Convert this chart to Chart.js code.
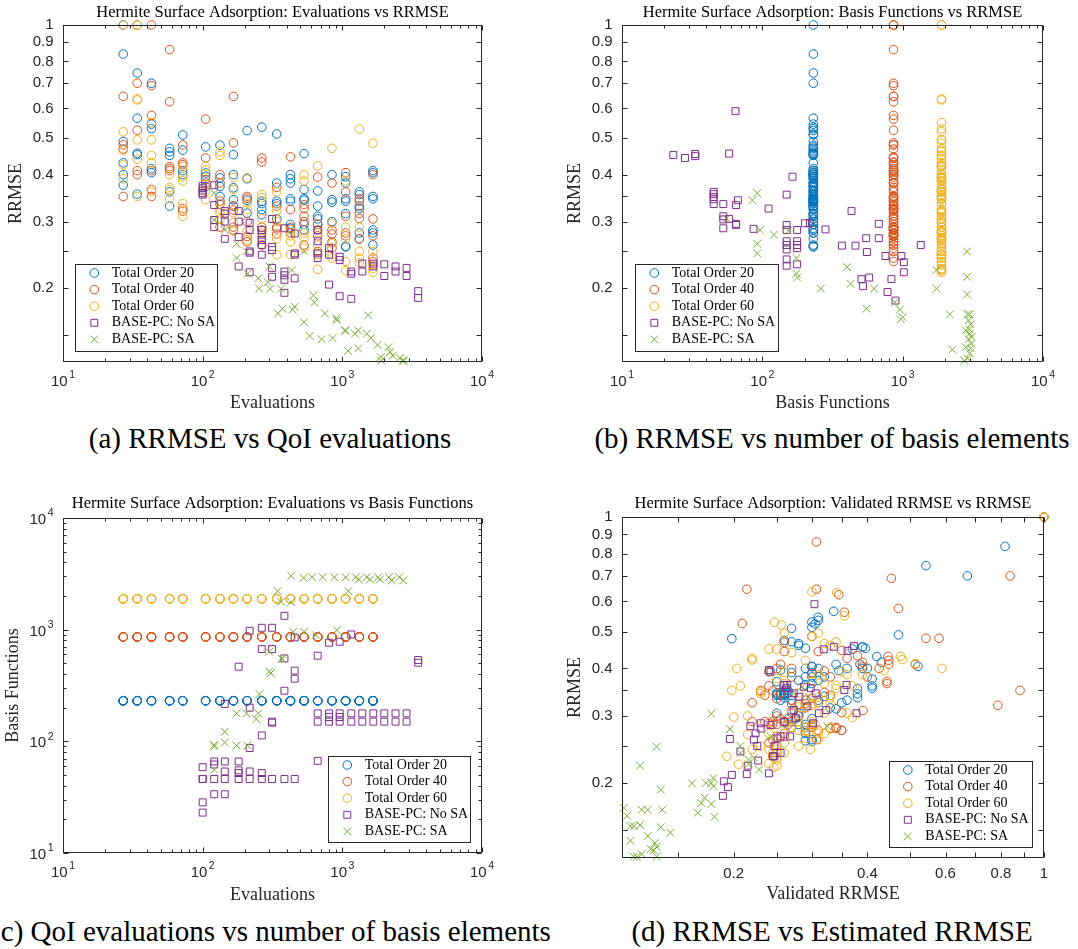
<!DOCTYPE html>
<html>
<head>
<meta charset="utf-8">
<title>Hermite Surface Adsorption</title>
<script src="https://cdn.jsdelivr.net/npm/chart.js@4.4.1/dist/chart.umd.min.js"></script>
<style>
  html, body { margin: 0; padding: 0; background: #fff; }
  #page { position: relative; width: 1078px; height: 949px; overflow: hidden; }
  canvas { position: absolute; }
  .caption { position: absolute; font-family: "Liberation Serif", "Times New Roman", serif; font-size: 29px; line-height: 29px; color: #000; text-align: center; white-space: nowrap; }
</style>
</head>
<body>
<div id="page">
  <canvas id="chartA" width="540" height="420" style="left:0;top:0"></canvas>
  <canvas id="chartB" width="538" height="420" style="left:540px;top:0"></canvas>
  <canvas id="chartC" width="540" height="440" style="left:0;top:470px"></canvas>
  <canvas id="chartD" width="538" height="440" style="left:540px;top:470px"></canvas>
  <div class="caption" style="left:20px;width:500px;top:424px">(a) RRMSE vs QoI evaluations</div>
  <div class="caption" style="left:532px;width:600px;top:424px">(b) RRMSE vs number of basis elements</div>
  <div class="caption" style="left:-79px;width:700px;top:917px">(c) QoI evaluations vs number of basis elements</div>
  <div class="caption" style="left:532px;width:600px;top:917px">(d) RRMSE vs Estimated RRMSE</div>
</div>
<script>
// ---------------- data ----------------
// QoI evaluation levels used by the total-order fits
const evalLevels = [27, 34, 43, 58, 72, 105, 133, 166, 208, 265, 339, 425, 532, 666, 843, 1056, 1323, 1657];
// number of basis functions of total order 20 / 40 / 60
const totalOrderBasis = [231, 861, 1891];

// RRMSE per evaluation level (one row per level)
const rrmseTO20 = [
  [1.0, 0.837, 0.49, 0.43, 0.40, 0.375], [0.745, 0.565, 0.456, 0.452, 0.355], [0.70, 0.545, 0.53, 0.415, 0.405],
  [0.47, 0.46, 0.45, 0.36, 0.33], [0.51, 0.465, 0.41, 0.40], [0.474, 0.404, 0.396, 0.372],
  [0.479, 0.392, 0.372, 0.35], [0.452, 0.40, 0.369, 0.343, 0.33], [0.524, 0.39, 0.342, 0.316],
  [0.535, 0.34, 0.335, 0.323, 0.313], [0.513, 0.38, 0.34, 0.335, 0.305], [0.40, 0.39, 0.38, 0.345, 0.34, 0.295, 0.288],
  [0.455, 0.365, 0.345, 0.342, 0.295, 0.285], [0.362, 0.33, 0.31, 0.305, 0.295], [0.40, 0.343, 0.338, 0.30],
  [0.395, 0.38, 0.345, 0.34, 0.315, 0.258, 0.257], [0.36, 0.354, 0.33, 0.325, 0.28, 0.27], [0.41, 0.405, 0.35, 0.345, 0.285, 0.28, 0.26]
];
const rrmseTO40 = [
  [0.646, 0.48, 0.468, 0.35], [1.0, 0.70, 0.525, 0.41, 0.40], [1.0, 0.69, 0.575, 0.41, 0.365, 0.35],
  [0.86, 0.625, 0.42, 0.415, 0.41], [0.48, 0.43, 0.425, 0.325, 0.32], [0.562, 0.443, 0.388, 0.38],
  [0.40, 0.38, 0.34, 0.334, 0.29], [0.646, 0.486, 0.33, 0.322, 0.29, 0.285], [0.35, 0.346, 0.30, 0.274, 0.265],
  [0.443, 0.432, 0.29, 0.285, 0.26], [0.37, 0.33, 0.29, 0.287, 0.278], [0.446, 0.323, 0.29, 0.28],
  [0.333, 0.325, 0.31, 0.30, 0.26], [0.394, 0.295, 0.285, 0.275, 0.25], [0.38, 0.285, 0.278, 0.265, 0.255],
  [0.405, 0.36, 0.31, 0.28, 0.275], [0.345, 0.34, 0.315, 0.306, 0.27], [0.40, 0.305, 0.275, 0.24, 0.235]
];
const rrmseTO60 = [
  [1.0, 0.52, 0.465, 0.425, 0.39], [1.0, 0.636, 0.632, 0.495, 0.44, 0.35], [0.55, 0.495, 0.45, 0.43, 0.36],
  [0.40, 0.37, 0.365, 0.345], [0.42, 0.395, 0.385, 0.335, 0.31], [0.421, 0.412, 0.376, 0.361, 0.343],
  [0.46, 0.45, 0.323, 0.316, 0.305], [0.393, 0.365, 0.317, 0.298, 0.283], [0.392, 0.336, 0.323, 0.283, 0.268],
  [0.354, 0.347, 0.305, 0.28, 0.27], [0.36, 0.32, 0.30, 0.27, 0.245], [0.285, 0.275, 0.265, 0.245],
  [0.40, 0.385, 0.28, 0.272, 0.255], [0.422, 0.28, 0.26, 0.245, 0.224], [0.47, 0.297, 0.262, 0.245, 0.24],
  [0.385, 0.29, 0.27, 0.235, 0.222], [0.529, 0.29, 0.25, 0.24, 0.233], [0.485, 0.25, 0.23, 0.225, 0.22]
];

// validated RRMSE, same layout as the RRMSE rows above
const validatedTO20 = [
  [1.0, 0.817, 0.47, 0.42, 0.40, 0.41], [0.542, 0.336, 0.39, 0.396, 0.41], [0.672, 0.31, 0.30, 0.43, 0.52],
  [0.27, 0.28, 0.37, 0.26, 0.255], [0.27, 0.28, 0.385, 0.29], [0.26, 0.30, 0.255, 0.31],
  [0.198, 0.24, 0.28, 0.265], [0.29, 0.39, 0.25, 0.38, 0.31], [0.305, 0.27, 0.25, 0.29],
  [0.31, 0.255, 0.38, 0.27, 0.34], [0.30, 0.32, 0.26, 0.26, 0.28], [0.36, 0.30, 0.30, 0.25, 0.27, 0.30, 0.26],
  [0.39, 0.30, 0.255, 0.26, 0.265, 0.29], [0.29, 0.36, 0.27, 0.25, 0.275], [0.31, 0.26, 0.32, 0.28],
  [0.345, 0.29, 0.26, 0.25, 0.33, 0.29, 0.30], [0.41, 0.38, 0.27, 0.35, 0.27, 0.29], [0.34, 0.30, 0.26, 0.265, 0.28, 0.29, 0.30]
];
const validatedTO40 = [
  [0.214, 0.542, 0.26, 0.23], [1.0, 0.839, 0.209, 0.513, 0.27], [1.0, 0.453, 0.47, 0.447, 0.443, 0.883],
  [0.307, 0.345, 0.447, 0.39, 0.255], [0.58, 0.445, 0.36, 0.22, 0.787], [0.355, 0.26, 0.30, 0.27],
  [0.25, 0.33, 0.235, 0.30, 0.26], [0.307, 0.30, 0.27, 0.28, 0.22, 0.245], [0.245, 0.32, 0.25, 0.29, 0.26],
  [0.31, 0.38, 0.235, 0.25, 0.307], [0.443, 0.29, 0.27, 0.24, 0.34], [0.35, 0.29, 0.245, 0.34],
  [0.25, 0.31, 0.391, 0.28, 0.245], [0.32, 0.255, 0.30, 0.35, 0.25], [0.40, 0.265, 0.33, 0.25, 0.24],
  [0.39, 0.24, 0.27, 0.30, 0.35], [0.255, 0.33, 0.29, 0.35, 0.26], [0.425, 0.27, 0.31, 0.25, 0.245]
];
const validatedTO60 = [
  [1.0, 0.256, 0.32, 0.22, 0.26], [1.0, 0.30, 0.341, 0.26, 0.27, 0.198], [0.355, 0.31, 0.24, 0.475, 0.207],
  [0.203, 0.30, 0.26, 0.28], [0.29, 0.436, 0.31, 0.33, 0.27], [0.22, 0.513, 0.25, 0.34, 0.23],
  [0.33, 0.25, 0.30, 0.29, 0.36], [0.24, 0.32, 0.28, 0.20, 0.26], [0.35, 0.31, 0.33, 0.30, 0.215],
  [0.34, 0.23, 0.32, 0.29, 0.24], [0.37, 0.30, 0.215, 0.31, 0.24], [0.305, 0.28, 0.25, 0.298],
  [0.589, 0.36, 0.33, 0.295, 0.26], [0.48, 0.27, 0.31, 0.25, 0.205], [0.34, 0.37, 0.29, 0.22, 0.245],
  [0.39, 0.28, 0.32, 0.193, 0.25], [0.247, 0.30, 0.23, 0.26, 0.25], [0.30, 0.28, 0.25, 0.24, 0.246]
];

// BASE-PC without sensitivity analysis
const noSaEvalsA = [100, 100, 100, 100, 100, 121, 121, 121, 121, 144, 144, 144, 144, 181, 181, 181, 181,
  217, 217, 217, 217, 217, 265, 265, 265, 265, 265, 314, 314, 314, 314, 314, 385, 385, 385, 385, 385,
  456, 456, 456, 456, 666, 666, 666, 666, 803, 803, 803, 957, 957, 957, 1159, 1159, 1159,
  1390, 1390, 1667, 1667, 1997, 1997, 2404, 2404, 2884, 2884, 3491, 3491];
const noSaRrmseA = [0.373, 0.368, 0.363, 0.357, 0.354, 0.375, 0.332, 0.303, 0.29, 0.32, 0.315, 0.30, 0.27,
  0.32, 0.30, 0.273, 0.228, 0.298, 0.285, 0.25, 0.248, 0.22, 0.285, 0.277, 0.268, 0.26, 0.245,
  0.305, 0.257, 0.252, 0.226, 0.214, 0.288, 0.221, 0.216, 0.21, 0.194, 0.279, 0.247, 0.245, 0.212,
  0.285, 0.266, 0.247, 0.24, 0.255, 0.245, 0.204, 0.242, 0.237, 0.19, 0.221, 0.218, 0.187,
  0.232, 0.221, 0.232, 0.228, 0.231, 0.215, 0.228, 0.221, 0.226, 0.215, 0.196, 0.188];
const noSaBasisB = [23.2, 28.1, 33.3, 33.3, 58, 64.4, 45, 45, 45, 45, 45, 52.7, 52.7, 52.7, 52.7, 58,
  65, 67, 65, 65, 86.6, 110.7, 149, 149, 149, 149, 149, 149, 149, 149, 164, 177, 177, 177, 177, 177,
  201, 218, 282, 369, 432, 461, 509, 522, 550, 556, 577, 676, 676, 754, 780, 832, 889, 980, 1020, 1020, 1346];
const noSaRrmseB = [0.451, 0.443, 0.454, 0.448, 0.455, 0.59, 0.36, 0.355, 0.349, 0.344, 0.334, 0.334, 0.31,
  0.304, 0.288, 0.305, 0.332, 0.342, 0.296, 0.294, 0.287, 0.325, 0.354, 0.294, 0.285, 0.266, 0.26, 0.253,
  0.238, 0.229, 0.395, 0.285, 0.266, 0.26, 0.255, 0.231, 0.297, 0.297, 0.286, 0.259, 0.32, 0.259,
  0.211, 0.202, 0.271, 0.249, 0.213, 0.296, 0.271, 0.243, 0.195, 0.211, 0.185, 0.243, 0.234, 0.220, 0.26];
const noSaEvalsC = [100, 100, 100, 100, 100, 121, 121, 121, 121, 144, 144, 144, 144, 144, 181, 181, 181, 181, 181,
  217, 217, 217, 217, 217, 265, 265, 265, 265, 265, 314, 314, 314, 314, 314, 385, 385, 385, 385,
  456, 456, 456, 456, 666, 666, 666, 666, 803, 803, 803, 803, 957, 957, 957, 957, 1159, 1159, 1159,
  1390, 1390, 1667, 1667, 1997, 1997, 2404, 2404, 2884, 2884, 3491, 3491];
const noSaBasisC = [58.7, 46, 46, 28.4, 23, 66, 62, 46, 33.6, 216, 66, 53.7, 46, 33.6, 466, 66, 55, 52, 46,
  977, 200, 87, 53.7, 46, 1040, 670, 113, 52, 46, 1040, 670, 150, 147, 46, 1330, 553, 284, 46,
  852, 430, 364, 46, 585, 178, 150, 66.8, 764, 178, 165, 150, 780, 178, 165, 150, 906, 178, 150,
  178, 150, 178, 150, 178, 150, 178, 150, 178, 150, 535, 506];
const noSaValidD = [0.304, 0.319, 0.336, 0.361, 0.373, 0.355, 0.359, 0.378, 0.323, 0.259, 0.262, 0.240, 0.242,
  0.196, 0.207, 0.215, 0.214, 0.198, 0.19, 0.194, 0.189, 0.24, 0.227, 0.218, 0.222, 0.224, 0.23, 0.23,
  0.226, 0.245, 0.247, 0.251, 0.255, 0.264, 0.273, 0.276, 0.288, 0.293, 0.298, 0.306, 0.311, 0.302,
  0.268, 0.255, 0.247, 0.273, 0.281, 0.26, 0.242];
const noSaRrmseD = [0.59, 0.449, 0.456, 0.445, 0.458, 0.351, 0.362, 0.305, 0.311, 0.362, 0.355, 0.396, 0.392,
  0.261, 0.242, 0.222, 0.211, 0.21, 0.202, 0.195, 0.185, 0.212, 0.229, 0.282, 0.26, 0.27, 0.287, 0.278,
  0.25, 0.235, 0.25, 0.262, 0.265, 0.362, 0.311, 0.296, 0.358, 0.318, 0.355, 0.344, 0.305, 0.287,
  0.265, 0.24, 0.235, 0.344, 0.337, 0.29, 0.284];

// BASE-PC with sensitivity analysis
const saEvalsA = [121, 121, 144, 175, 175, 206, 210, 250, 254, 292, 300, 304, 346, 364, 372, 434, 440, 456,
  531, 532, 584, 620, 630, 710, 750, 851, 905, 915, 1042, 1060, 1101, 1230, 1300, 1300, 1496, 1531, 1600,
  1787, 1880, 1900, 2136, 2200, 2300, 2580, 2700, 2760];
const saRrmseA = [0.357, 0.303, 0.285, 0.262, 0.24, 0.25, 0.218, 0.212, 0.199, 0.207, 0.228, 0.199, 0.171,
  0.199, 0.176, 0.223, 0.175, 0.178, 0.162, 0.25, 0.149, 0.191, 0.183, 0.146, 0.171, 0.147, 0.166, 0.164,
  0.154, 0.154, 0.136, 0.151, 0.154, 0.138, 0.151, 0.169, 0.147, 0.141, 0.131, 0.128, 0.139, 0.135,
  0.132, 0.130, 0.128, 0.128];
const saBasisB = [55.6, 85, 92, 96, 92, 92, 121, 153, 175, 175, 177, 261, 402, 425, 552, 626, 879, 955, 970, 1000,
  1740, 1740, 2170, 2260, 2877, 2877, 2877, 2900, 3000, 2950, 2820, 3000, 3090, 2950, 3090, 2820, 3000,
  2900, 2750, 3050, 2980, 3060];
const saRrmseB = [0.306, 0.342, 0.357, 0.285, 0.262, 0.247, 0.277, 0.284, 0.24, 0.218, 0.213, 0.199, 0.227,
  0.205, 0.176, 0.199, 0.183, 0.175, 0.165, 0.167, 0.223, 0.199, 0.170, 0.137, 0.25, 0.214, 0.192, 0.17,
  0.17, 0.164, 0.154, 0.151, 0.148, 0.146, 0.142, 0.139, 0.134, 0.130, 0.128, 0.16, 0.155, 0.138];
const saEvalsC = [121, 121, 121, 144, 144, 175, 209, 175, 206, 242, 250, 255, 300, 308, 300, 368, 372, 344, 364,
  430, 430, 445, 532, 528, 607, 645, 723, 877, 912, 1057, 1104, 1245, 1314, 1493, 1578, 1808, 1858,
  2157, 2254, 2560, 2730];
const saBasisC = [93, 90, 55.6, 122, 97.6, 91.6, 91.6, 178, 178, 158, 178, 265, 421, 408, 634, 553, 545, 2213,
  1775, 1775, 3035, 957, 957, 2910, 2950, 893, 2950, 2950, 990, 2950, 2213, 2950, 2817, 2950, 2817,
  2950, 2817, 2950, 2760, 2950, 2760];
const saValidD = [0.178, 0.196, 0.134, 0.123, 0.161, 0.173, 0.178, 0.18, 0.18, 0.137, 0.169, 0.172, 0.166,
  0.178, 0.181, 0.124, 0.128, 0.138, 0.113, 0.115, 0.117, 0.119, 0.123, 0.117, 0.128, 0.133, 0.134,
  0.137, 0.144, 0.13, 0.132, 0.124, 0.119, 0.121, 0.134, 0.207, 0.207, 0.216, 0.216, 0.222, 0.285,
  0.325, 0.242, 0.228, 0.295];
const saRrmseD = [0.304, 0.277, 0.249, 0.222, 0.1995, 0.2, 0.2, 0.206, 0.196, 0.192, 0.177, 0.183, 0.167,
  0.176, 0.163, 0.17, 0.17, 0.17, 0.172, 0.164, 0.154, 0.154, 0.155, 0.141, 0.145, 0.139, 0.136,
  0.153, 0.148, 0.134, 0.133, 0.13, 0.128, 0.128, 0.128, 0.25, 0.24, 0.23, 0.224, 0.233, 0.358,
  0.282, 0.265, 0.217, 0.337];

// axis ticks
const decadeTicks = [10, 100, 1000, 10000];
const decadeLabels = ['1', '2', '3', '4'];          // shown as 10^n
const rrmseTicks = [0.2, 0.3, 0.4, 0.5, 0.6, 0.7, 0.8, 0.9, 1];
const rrmseLabels = ['0.2', '0.3', '0.4', '0.5', '0.6', '0.7', '0.8', '0.9', '1'];
const rrmseExtraTicks = [0.15, 0.25, 0.35];
const validTicks = [0.2, 0.4, 0.6, 0.8, 1];
const validLabels = ['0.2', '0.4', '0.6', '0.8', '1'];
const validExtraTicks = [0.15, 0.25, 0.3, 0.35, 0.5, 0.7, 0.9];

// ---------------- styling ----------------
const serif = '"Liberation Serif", "Times New Roman", serif';
const sans = '"Liberation Sans", Arial, sans-serif';
const axisColor = '#262626';

const series = [
  { label: 'Total Order 20', color: '#0072BD', pointStyle: 'circle', radius: 4.3 },
  { label: 'Total Order 40', color: '#D95319', pointStyle: 'circle', radius: 4.3 },
  { label: 'Total Order 60', color: '#EDB120', pointStyle: 'circle', radius: 4.3 },
  { label: 'BASE-PC: No SA', color: '#7E2F8E', pointStyle: 'rect', radius: 4.9 },
  { label: 'BASE-PC: SA', color: '#77AC30', pointStyle: 'crossRot', radius: 5.5 }
];

const minorOf = (decades) => {
  const out = [];
  decades.slice(0, -1).forEach(d => { for (let k = 2; k <= 9; k++) out.push(d * k); });
  return out;
};

const logAxis = { ticks: decadeTicks, labels: decadeLabels, extra: [], minor: minorOf(decadeTicks), pow: true };
const rrmseAxis = { ticks: rrmseTicks, labels: rrmseLabels, extra: rrmseExtraTicks, minor: [], pow: false };
const validAxis = { ticks: validTicks, labels: validLabels, extra: validExtraTicks, minor: [], pow: false };

// ---------------- helpers ----------------
const repeatPerLevel = (xs, rows) => rows.flatMap((row, i) => row.map(() => xs[i]));
const repeatConst = (v, rows) => rows.flat().map(() => v);
const toPoints = (xs, ys) => ys.map((y, i) => ({ x: xs[i], y }));

function makeDatasets(lists) {
  return lists.map((pts, i) => ({
    label: series[i].label,
    data: pts,
    pointStyle: series[i].pointStyle,
    pointRadius: series[i].radius,
    pointBorderWidth: 1,
    borderColor: series[i].color,
    backgroundColor: 'rgba(0,0,0,0)',
    pointBackgroundColor: 'rgba(0,0,0,0)',
    showLine: false,
    clip: 6,
    order: series.length - i
  }));
}

function drawPow(ctx, exp, x, y, align) {
  ctx.textBaseline = 'middle';
  ctx.textAlign = 'left';
  ctx.font = '15px ' + sans;
  const wb = ctx.measureText('10').width;
  ctx.font = '10.5px ' + sans;
  const we = ctx.measureText(exp).width;
  const total = wb + 1.5 + we;
  const x0 = align === 'center' ? x - total / 2 : x - total;
  ctx.font = '15px ' + sans;
  ctx.fillText('10', x0, y);
  ctx.font = '10.5px ' + sans;
  ctx.fillText(exp, x0 + wb + 1.5, y - 6.5);
}

// MATLAB style box, inward ticks, tick labels and legend
const matlabAxes = {
  id: 'matlabAxes',
  afterDatasetsDraw(chart, args, opts) {
    const { ctx, chartArea: area } = chart;
    const xs = chart.scales.x, ys = chart.scales.y;
    const L = Math.round(area.left) + 0.5, R = Math.round(area.right) - 0.5;
    const T = Math.round(area.top) + 0.5, B = Math.round(area.bottom) - 0.5;
    ctx.save();
    ctx.strokeStyle = axisColor;
    ctx.lineWidth = 1;
    ctx.beginPath();
    ctx.rect(L, T, R - L, B - T);
    const xTick = (v, len) => {
      const p = Math.round(xs.getPixelForValue(v)) + 0.5;
      ctx.moveTo(p, B); ctx.lineTo(p, B - len);
      ctx.moveTo(p, T); ctx.lineTo(p, T + len);
    };
    const yTick = (v, len) => {
      const p = Math.round(ys.getPixelForValue(v)) + 0.5;
      ctx.moveTo(L, p); ctx.lineTo(L + len, p);
      ctx.moveTo(R, p); ctx.lineTo(R - len, p);
    };
    opts.x.ticks.concat(opts.x.extra).forEach(v => xTick(v, 5));
    opts.x.minor.forEach(v => xTick(v, 3));
    opts.y.ticks.concat(opts.y.extra).forEach(v => yTick(v, 5));
    opts.y.minor.forEach(v => yTick(v, 3));
    ctx.stroke();

    ctx.fillStyle = axisColor;
    opts.x.ticks.forEach((v, i) => {
      const p = xs.getPixelForValue(v);
      if (opts.x.pow) {
        drawPow(ctx, opts.x.labels[i], p, B + 20, 'center');
      } else {
        ctx.font = '15px ' + sans;
        ctx.textAlign = 'center';
        ctx.textBaseline = 'middle';
        ctx.fillText(opts.x.labels[i], p, B + 16);
      }
    });
    opts.y.ticks.forEach((v, i) => {
      const p = ys.getPixelForValue(v);
      if (opts.y.pow) {
        drawPow(ctx, opts.y.labels[i], L - 10, p + 2, 'right');
      } else {
        ctx.font = '15px ' + sans;
        ctx.textAlign = 'right';
        ctx.textBaseline = 'middle';
        ctx.fillText(opts.y.labels[i], L - 10, p);
      }
    });

    // legend box
    const lg = opts.legend;
    ctx.fillStyle = '#fff';
    ctx.fillRect(lg.left, lg.top, lg.width, lg.height);
    ctx.strokeStyle = axisColor;
    ctx.strokeRect(Math.round(lg.left) + 0.5, Math.round(lg.top) + 0.5, Math.round(lg.width), Math.round(lg.height));
    chart.data.datasets.forEach((ds, i) => {
      const y = lg.top + 9.5 + i * 16.6;
      ctx.strokeStyle = ds.borderColor;
      ctx.fillStyle = 'rgba(0,0,0,0)';
      ctx.lineWidth = 1;
      Chart.helpers.drawPoint(ctx, { pointStyle: ds.pointStyle, radius: ds.pointRadius, borderWidth: 1, rotation: 0 }, lg.left + 19.3, y);
      ctx.fillStyle = '#000';
      ctx.font = '14px ' + serif;
      ctx.textAlign = 'left';
      ctx.textBaseline = 'middle';
      ctx.fillText(ds.label, lg.left + 36.7, y);
    });
    ctx.restore();
  }
};

function buildChart(id, cfg) {
  const ctx = document.getElementById(id).getContext('2d');
  return new Chart(ctx, {
    type: 'scatter',
    data: { datasets: makeDatasets(cfg.points) },
    options: {
      responsive: false,
      animation: false,
      events: [],
      layout: { padding: { left: 0, top: 0, bottom: 0, right: cfg.padRight } },
      plugins: {
        legend: { display: false },
        tooltip: { enabled: false },
        matlabAxes: { x: cfg.xAxis, y: cfg.yAxis, legend: cfg.legend }
      },
      scales: {
        x: {
          type: 'logarithmic', position: 'bottom', min: cfg.xRange[0], max: cfg.xRange[1],
          grid: { display: false }, border: { display: false }, ticks: { display: false },
          title: { display: true, text: cfg.xTitle, color: axisColor, font: { family: serif, size: 18 }, padding: { top: 0, bottom: cfg.xTitlePad } },
          afterFit: s => { s.height = cfg.xHeight; }
        },
        y: {
          type: 'logarithmic', position: 'left', min: cfg.yRange[0], max: cfg.yRange[1],
          grid: { display: false }, border: { display: false }, ticks: { display: false },
          title: { display: true, text: cfg.yTitle, color: axisColor, font: { family: serif, size: 18 }, padding: { top: cfg.yTitlePad, bottom: 0 } },
          afterFit: s => { s.width = cfg.yWidth; }
        },
        head: {
          type: 'linear', position: 'top',
          grid: { display: false }, border: { display: false }, ticks: { display: false },
          title: { display: true, text: cfg.title, color: '#000', font: { family: serif, size: 16.5 }, padding: { top: cfg.titlePad, bottom: 0 } },
          afterFit: s => { s.height = cfg.headHeight; }
        }
      }
    },
    plugins: [matlabAxes]
  });
}

// ---------------- point lists ----------------
const rrmseRows = [rrmseTO20, rrmseTO40, rrmseTO60];
const validRows = [validatedTO20, validatedTO40, validatedTO60];

const pointsA = rrmseRows.map(rows => toPoints(repeatPerLevel(evalLevels, rows), rows.flat()))
  .concat([toPoints(noSaEvalsA, noSaRrmseA), toPoints(saEvalsA, saRrmseA)]);
const pointsB = rrmseRows.map((rows, k) => toPoints(repeatConst(totalOrderBasis[k], rows), rows.flat()))
  .concat([toPoints(noSaBasisB, noSaRrmseB), toPoints(saBasisB, saRrmseB)]);
const pointsC = rrmseRows.map((rows, k) => toPoints(repeatPerLevel(evalLevels, rows), repeatConst(totalOrderBasis[k], rows)))
  .concat([toPoints(noSaEvalsC, noSaBasisC), toPoints(saEvalsC, saBasisC)]);
const pointsD = rrmseRows.map((rows, k) => toPoints(validRows[k].flat(), rows.flat()))
  .concat([toPoints(noSaValidD, noSaRrmseD), toPoints(saValidD, saRrmseD)]);

buildChart('chartA', {
  points: pointsA, title: 'Hermite Surface Adsorption: Evaluations vs RRMSE',
  xTitle: 'Evaluations', yTitle: 'RRMSE', xRange: [10, 10000], yRange: [0.127, 1],
  xAxis: logAxis, yAxis: rrmseAxis,
  padRight: 58, xHeight: 58, yWidth: 63, headHeight: 25, titlePad: 2.6, xTitlePad: 6.2, yTitlePad: 5.2,
  legend: { left: 75, top: 263.5, width: 142, height: 86.5 }
});
buildChart('chartB', {
  points: pointsB, title: 'Hermite Surface Adsorption: Basis Functions vs RRMSE',
  xTitle: 'Basis Functions', yTitle: 'RRMSE', xRange: [10, 10000], yRange: [0.127, 1],
  xAxis: logAxis, yAxis: rrmseAxis,
  padRight: 35, xHeight: 58, yWidth: 82, headHeight: 25, titlePad: 2.6, xTitlePad: 6.2, yTitlePad: 24.2,
  legend: { left: 95, top: 263.5, width: 142.5, height: 86.5 }
});
buildChart('chartC', {
  points: pointsC, title: 'Hermite Surface Adsorption: Evaluations vs Basis Functions',
  xTitle: 'Evaluations', yTitle: 'Basis Functions', xRange: [10, 10000], yRange: [10, 10000],
  xAxis: logAxis, yAxis: logAxis,
  padRight: 58, xHeight: 57, yWidth: 63, headHeight: 48, titlePad: 24.1, xTitlePad: 4.2, yTitlePad: 2.5,
  legend: { left: 328, top: 285.5, width: 142, height: 85.5 }
});
buildChart('chartD', {
  points: pointsD, title: 'Hermite Surface Adsorption: Validated RRMSE vs RRMSE',
  xTitle: 'Validated RRMSE', yTitle: 'RRMSE', xRange: [0.112, 1], yRange: [0.127, 1],
  xAxis: validAxis, yAxis: rrmseAxis,
  padRight: 34, xHeight: 52, yWidth: 82, headHeight: 47, titlePad: 24.1, xTitlePad: 4.9, yTitlePad: 24.2,
  legend: { left: 348.5, top: 290.5, width: 142.5, height: 85.5 }
});
</script>
</body>
</html>
